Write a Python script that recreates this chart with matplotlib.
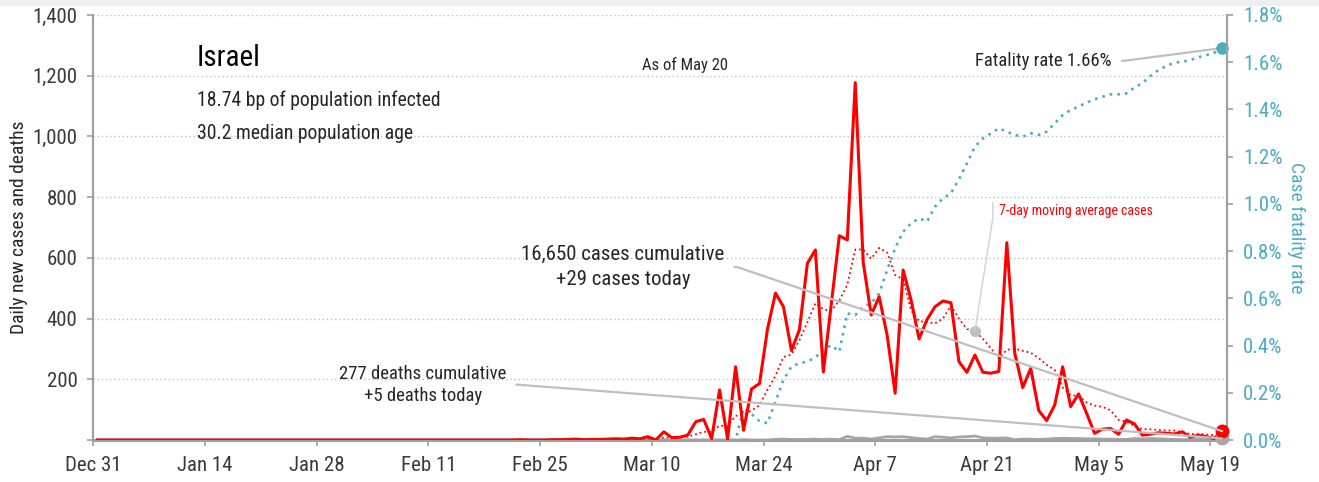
import matplotlib
matplotlib.use("Agg")
import matplotlib.pyplot as plt
import numpy as np
import pandas as pd
from matplotlib import font_manager
from matplotlib.patches import Rectangle
from matplotlib.ticker import FuncFormatter, MultipleLocator

# narrow sans if there is one
installed = {f.name for f in font_manager.fontManager.ttflist}
for fam in ["Roboto Condensed", "Liberation Sans Narrow", "DejaVu Sans"]:
    if fam in installed:
        plt.rcParams["font.family"] = fam
        break
plt.rcParams["font.stretch"] = "condensed"

RED = "#FF0000"
BLUE = "#4BACC6"
GREY = "#A6A6A6"
LIGHT = "#BFBFBF"
TXT = "#262626"
AXC = "#A0A0A0"

# daily new cases, one value per day from Dec 31 to May 20
cases = [0] * 53 + [
    1, 0, 0, 0, 1, 1, 2, 3, 1, 2, 2, 3, 4, 3, 6, 4, 11, 0,
    27, 8, 9, 16, 60, 68, 5, 165, 3, 241,
    32, 168, 186, 365, 484, 439, 295, 363, 582, 626,
    224, 450, 673, 659, 1177, 585, 412, 472, 345, 154,
    560, 461, 333, 397, 439, 458, 452, 258, 223, 280,
    223, 220, 226, 650, 285, 173, 236, 97, 64, 115,
    241, 110, 152, 88, 22, 36, 38, 19, 66, 53,
    16, 19, 24, 22, 20, 27, 9, 16, 11, 5, 29,
]

# daily new deaths
deaths = [0] * 81 + [
    1, 0, 0, 0, 2, 3, 2, 2, 2, 3,
    2, 3, 1, 12, 6, 6, 3, 7, 11, 10,
    11, 8, 5, 3, 11, 9, 7, 10, 11, 13,
    7, 6, 6, 7, 1, 3, 3, 2, 3, 5,
    6, 5, 5, 4, 4, 3, 3, 2, 2, 5,
    4, 5, 4, 3, 2, 1, 2, 2, 2, 1, 5,
]

# case fatality rate, percent
cfr = [0.0] * 81 + [
    0.134, 0.11, 0.08, 0.071, 0.162, 0.254, 0.311, 0.325, 0.332, 0.35,
    0.381, 0.402, 0.374, 0.536, 0.529, 0.565, 0.579, 0.621, 0.72, 0.812,
    0.882, 0.918, 0.939, 0.925, 0.988, 1.024, 1.045, 1.104, 1.172, 1.242,
    1.277, 1.299, 1.32, 1.306, 1.292, 1.285, 1.299, 1.292, 1.306, 1.341,
    1.376, 1.398, 1.412, 1.429, 1.443, 1.454, 1.464, 1.464, 1.468, 1.493,
    1.511, 1.542, 1.567, 1.584, 1.598, 1.602, 1.609, 1.621, 1.63, 1.64,
    1.66,
]

tick_days = [0, 14, 28, 42, 56, 70, 84, 98, 112, 126, 140]
tick_labels = ["Dec 31", "Jan 14", "Jan 28", "Feb 11", "Feb 25", "Mar 10",
               "Mar 24", "Apr 7", "Apr 21", "May 5", "May 19"]

x = np.arange(len(cases)) + 0.5
ma = pd.Series(cases).rolling(7, min_periods=1).mean().values

fig = plt.figure(figsize=(13.19, 4.82), dpi=100)
fig.patches.append(Rectangle((0, 1 - 5 / 482), 1, 5 / 482,
                             transform=fig.transFigure, color="#EFEFEF", zorder=0))
ax = fig.add_axes([93.4 / 1319, 42 / 482, 1133.6 / 1319, 425 / 482])
ax2 = ax.twinx()
ax.set_zorder(ax2.get_zorder() + 1)
ax.patch.set_visible(False)

ax2.plot(x, cfr, color=BLUE, lw=1.9, ls=(0, (1, 1.9)))
ax.plot(x, deaths, color=GREY, lw=2, zorder=2)
ax.plot(x, ma, color=RED, lw=1.3, ls=":", zorder=3)
ax.plot(x, cases, color=RED, lw=2.2, zorder=4)

ax.set_xlim(0, 142.1)
ax.set_ylim(0, 1400)
ax2.set_ylim(0, 1.8)

ax.yaxis.set_major_locator(MultipleLocator(200))
ax.yaxis.set_major_formatter(FuncFormatter(lambda v, p: "" if v == 0 else f"{v:,.0f}"))
ax2.yaxis.set_major_locator(MultipleLocator(0.2))
ax2.yaxis.set_major_formatter(FuncFormatter(lambda v, p: f"{v:.1f}%"))
ax.set_xticks(tick_days)
ax.set_xticklabels(tick_labels)
ax.yaxis.grid(True, color=LIGHT, ls=(0, (1, 2)), lw=1)

for a in (ax, ax2):
    a.spines["top"].set_visible(False)
    for s in ("left", "right", "bottom"):
        a.spines[s].set_color(AXC)
        a.spines[s].set_linewidth(1.5)
    a.spines["bottom"].set_linewidth(2.2)
ax.tick_params(axis="both", colors=AXC, length=4.5, width=1.2, labelsize=15, pad=7,
               labelcolor="#3a3a3a")
ax2.tick_params(axis="y", colors=AXC, length=4.5, width=1.2, labelsize=15, pad=7,
                labelcolor=BLUE)

ax.set_ylabel("Daily new cases and deaths", fontsize=14, color=TXT)
ax.yaxis.set_label_coords(-0.0577, 0.5)
ax2.set_ylabel("Case fatality rate", fontsize=14, color=BLUE, rotation=270, va="center")
ax2.yaxis.set_label_coords(1.061, 0.5)

# titles
ax.text(13.0, 1258, "Israel", fontsize=21, color="black", va="center")
ax.text(13.0, 1120, "18.74 bp of population infected", fontsize=14.2, color=TXT, va="center")
ax.text(13.0, 1011, "30.2 median population age", fontsize=14.2, color=TXT, va="center")
ax.text(74.2, 1236, "As of May 20", fontsize=12, color=TXT, ha="center", va="center")

# latest-day markers
ax.plot(x[-1], cases[-1], "o", color=RED, ms=9, zorder=6, clip_on=False)
ax.plot(x[-1], deaths[-1], "o", color=GREY, ms=9, zorder=5, clip_on=False)
ax2.plot(x[-1], cfr[-1], "o", color=BLUE, ms=8, zorder=6, clip_on=False)

leader = dict(arrowstyle="-", color=LIGHT, lw=1.6, shrinkA=5, shrinkB=0,
              relpos=(1, 0.5), connectionstyle="arc,angleA=0,armA=12,rad=0")
ax.annotate("16,650 cases cumulative\n+29 cases today", xy=(x[-1], cases[-1]),
            xytext=(66.4, 570), textcoords="data", ha="center", va="center",
            fontsize=15, color=TXT, linespacing=1.35, arrowprops=leader, zorder=7)
ax.annotate("277 deaths cumulative\n+5 deaths today", xy=(x[-1], deaths[-1]),
            xytext=(41.3, 182), textcoords="data", ha="center", va="center",
            fontsize=13.5, color=TXT, linespacing=1.3, arrowprops=leader, zorder=7)
ax2.annotate("Fatality rate 1.66%", xy=(x[-1], cfr[-1]),
             xytext=(127.7, 1.606), textcoords="data", ha="right", va="center",
             fontsize=13.5, color=TXT, arrowprops=leader)

# moving-average callout
ax.plot(x[110], ma[110], "o", color=LIGHT, ms=7, zorder=6)
ax.annotate("", xy=(x[110], ma[110]), xytext=(112.75, 782), textcoords="data",
            arrowprops=dict(arrowstyle="-", color="#D0D0D0", lw=1, shrinkA=0, shrinkB=0,
                            connectionstyle="arc,angleA=-90,armA=15,rad=0"), zorder=6)
ax.text(113.5, 755, "7-day moving average cases", fontsize=10, color=RED, va="center")

fig.savefig("out.png", dpi=100)
